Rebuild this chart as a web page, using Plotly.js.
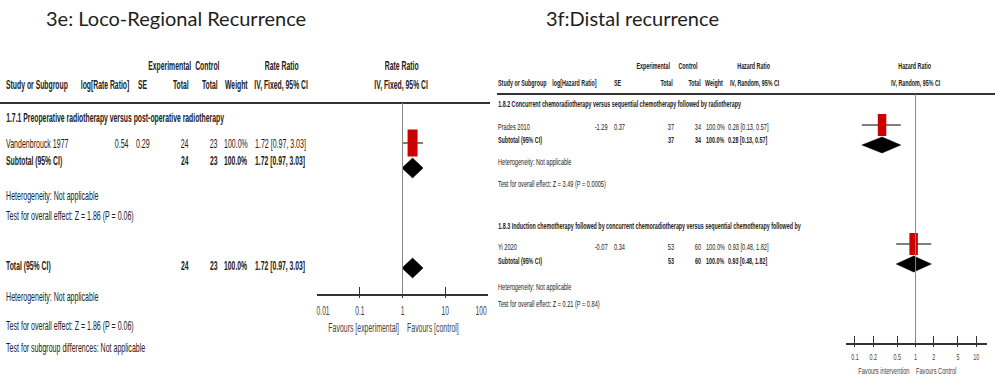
<!DOCTYPE html>
<html>
<head>
<meta charset="utf-8">
<script src="https://cdn.plot.ly/plotly-3.0.1.min.js"></script>
<style>html,body{margin:0;padding:0;background:#fff;}#chart{width:995px;height:383px;}</style>
</head>
<body>
<div id="chart"></div>
<script>
// ---------- DATA ----------
var titleL = "3e: Loco-Regional Recurrence";
var titleR = "3f:Distal recurrence";

// Left panel (3e)
var subgroupL = "1.7.1 Preoperative radiotherapy versus post-operative radiotherapy";
var studiesL = ["Vandenbrouck 1977"];
var logRRL = [0.54];
var seL = [0.29];
var expTotL = [24];
var ctrlTotL = [23];
var weightL = [100.0];
var rrL = [1.72];
var rrLoL = [0.97];
var rrHiL = [3.03];
var subtotalL = {exp: 24, ctrl: 23, weight: 100.0, est: 1.72, lo: 0.97, hi: 3.03};
var totalL = {exp: 24, ctrl: 23, weight: 100.0, est: 1.72, lo: 0.97, hi: 3.03};
var notesL1 = ["Heterogeneity: Not applicable", "Test for overall effect: Z = 1.86 (P = 0.06)"];
var notesL2 = ["Heterogeneity: Not applicable", "Test for overall effect: Z = 1.86 (P = 0.06)", "Test for subgroup differences: Not applicable"];
var tickValsL = [0.01, 0.1, 1, 10, 100];
var tickTextL = ["0.01", "0.1", "1", "10", "100"];
var favoursL = ["Favours [experimental]", "Favours [control]"];

// Right panel (3f)
var subgroupsR = ["1.8.2 Concurrent chemoradiotherapy versus sequential chemotherapy followed by radiotherapy",
                  "1.8.3 Induction chemotherapy followed by concurrent chemoradiotherapy versus sequential chemotherapy followed by"];
var studiesR = ["Prades 2010", "Yi 2020"];
var logHRR = [-1.29, -0.07];
var seR = [0.37, 0.34];
var expTotR = [37, 53];
var ctrlTotR = [34, 60];
var weightR = [100.0, 100.0];
var hrR = [0.28, 0.93];
var hrLoR = [0.13, 0.48];
var hrHiR = [0.57, 1.82];
var subtotalsR = [
  {exp: 37, ctrl: 34, weight: 100.0, est: 0.28, lo: 0.13, hi: 0.57},
  {exp: 53, ctrl: 60, weight: 100.0, est: 0.93, lo: 0.48, hi: 1.82}
];
var notesR = [["Heterogeneity: Not applicable", "Test for overall effect: Z = 3.49 (P = 0.0005)"],
              ["Heterogeneity: Not applicable", "Test for overall effect: Z = 0.21 (P = 0.84)"]];
var tickValsR = [0.1, 0.2, 0.5, 1, 2, 5, 10];
var tickTextR = ["0.1", "0.2", "0.5", "1", "2", "5", "10"];
var favoursR = ["Favours intervention", "Favours Control"];

// ---------- LAYOUT HELPERS ----------
var W = 995, H = 383;
var SANS = "Liberation Sans, Arial, sans-serif";
var TXT = "#222";
var RED = "#cc0000";
var ann = [], kArr = [];
// left panel text: 12px squeezed horizontally; right panel: 9px squeezed
var fl = 12, kL = 0.587, kLb = 0.57;
var fr = 9, kR = 0.623, kRb = 0.595;
function T(px, py, text, anchor, size, bold, k, color) {
  ann.push({
    x: px / W, y: 1 - py / H, xref: "paper", yref: "paper",
    text: bold ? "<b>" + text + "</b>" : text,
    xanchor: anchor, yanchor: "middle", showarrow: false, borderpad: 0,
    font: {family: SANS, size: size, color: color || TXT}
  });
  kArr.push(k);
}
function L(px, py, text, anchor, bold) { T(px, py, text, anchor, fl, bold, bold ? kLb : kL); }
function R(px, py, text, anchor, bold) { T(px, py, text, anchor, fr, bold, bold ? kRb : kR); }
function ci(e, l, h) { return e.toFixed(2) + " [" + l.toFixed(2) + ", " + h.toFixed(2) + "]"; }
function pct(w) { return w.toFixed(1) + "%"; }

// Titles
[[45, titleL], [545, titleR]].forEach(function (p) {
  ann.push({x: p[0] / W, y: 1 - 18 / H, xref: "paper", yref: "paper", text: p[1], xanchor: "left", yanchor: "middle",
    showarrow: false, borderpad: 0, font: {family: "Lato, Open Sans, sans-serif", size: 20, color: "#1e1e1e"}});
  kArr.push(1);
});

// ----- Left table -----
var rowL = {h1: 66, h2: 85, sg: 118, st: [144], sub: 161, n1: [196, 216], tot: 266, n2: [297, 326, 348]};
L(169, rowL.h1, "Experimental", "center", true);
L(207, rowL.h1, "Control", "center", true);
L(281, rowL.h1, "Rate Ratio", "center", true);
L(401, rowL.h1, "Rate Ratio", "center", true);
L(5, rowL.h2, "Study or Subgroup", "left", true);
L(130, rowL.h2, "log[Rate Ratio]", "right", true);
L(137, rowL.h2, "SE", "left", true);
L(190, rowL.h2, "Total", "right", true);
L(219, rowL.h2, "Total", "right", true);
L(224, rowL.h2, "Weight", "left", true);
L(281, rowL.h2, "IV, Fixed, 95% CI", "center", true);
L(401, rowL.h2, "IV, Fixed, 95% CI", "center", true);
L(5, rowL.sg, subgroupL, "left", true);
studiesL.forEach(function (s, i) {
  var y = rowL.st[i];
  L(5, y, s, "left", false);
  L(130, y, logRRL[i].toFixed(2), "right", false);
  L(135, y, seL[i].toFixed(2), "left", false);
  L(190, y, String(expTotL[i]), "right", false);
  L(219, y, String(ctrlTotL[i]), "right", false);
  L(223, y, pct(weightL[i]), "left", false);
  L(254, y, ci(rrL[i], rrLoL[i], rrHiL[i]), "left", false);
});
function sumRow(y, label, o) {
  L(5, y, label, "left", true);
  L(190, y, String(o.exp), "right", true);
  L(219, y, String(o.ctrl), "right", true);
  L(223, y, pct(o.weight), "left", true);
  L(254, y, ci(o.est, o.lo, o.hi), "left", true);
}
sumRow(rowL.sub, "Subtotal (95% CI)", subtotalL);
notesL1.forEach(function (t, i) { L(5, rowL.n1[i], t, "left", false); });
sumRow(rowL.tot, "Total (95% CI)", totalL);
notesL2.forEach(function (t, i) { L(5, rowL.n2[i], t, "left", false); });

// ----- Right table -----
var rowR = {h1: 66, h2: 83, sg: [104, 226], st: [127, 247], sub: [140, 261], n: [[162, 184], [287, 304]]};
R(653, rowR.h1, "Experimental", "center", true);
R(688, rowR.h1, "Control", "center", true);
R(754, rowR.h1, "Hazard Ratio", "center", true);
R(915, rowR.h1, "Hazard Ratio", "center", true);
R(497, rowR.h2, "Study or Subgroup", "left", true);
R(598, rowR.h2, "log[Hazard Ratio]", "right", true);
R(613, rowR.h2, "SE", "left", true);
R(674, rowR.h2, "Total", "right", true);
R(702, rowR.h2, "Total", "right", true);
R(704, rowR.h2, "Weight", "left", true);
R(754, rowR.h2, "IV, Random, 95% CI", "center", true);
R(915, rowR.h2, "IV, Random, 95% CI", "center", true);
studiesR.forEach(function (s, i) {
  R(497, rowR.sg[i], subgroupsR[i], "left", true);
  var y = rowR.st[i];
  R(497, y, s, "left", false);
  R(609, y, logHRR[i].toFixed(2), "right", false);
  R(613, y, seR[i].toFixed(2), "left", false);
  R(675, y, String(expTotR[i]), "right", false);
  R(702, y, String(ctrlTotR[i]), "right", false);
  R(705, y, pct(weightR[i]), "left", false);
  R(727, y, ci(hrR[i], hrLoR[i], hrHiR[i]), "left", false);
  var o = subtotalsR[i], ys = rowR.sub[i];
  R(497, ys, "Subtotal (95% CI)", "left", true);
  R(675, ys, String(o.exp), "right", true);
  R(702, ys, String(o.ctrl), "right", true);
  R(705, ys, pct(o.weight), "left", true);
  R(727, ys, ci(o.est, o.lo, o.hi), "left", true);
  notesR[i].forEach(function (t, j) { R(497, rowR.n[i][j], t, "left", false); });
});

// Favours labels (anchored at the null line)
function fav(xa, py, text, anchor, shift, size, k) {
  ann.push({x: 0, y: 1 - py / H, xref: xa, yref: "paper", text: text, xanchor: anchor, xshift: shift, yanchor: "middle",
    showarrow: false, borderpad: 0, font: {family: SANS, size: size, color: "#444"}});
  kArr.push(k);
}
fav("x", 328, favoursL[0], "right", -3, fl, 0.58);
fav("x", 328, favoursL[1], "left", 3, fl, 0.58);
fav("x2", 371, favoursR[0], "right", -5, fr, 0.63);
fav("x2", 371, favoursR[1], "left", -1, fr, 0.63);

// ---------- TRACES ----------
var traces = [];
function study(xa, ya, y, est, lo, hi, boxH, boxW) {
  traces.push({x: [lo, hi], y: [y, y], xaxis: xa, yaxis: ya, mode: "lines", line: {color: "#555", width: 1.5}, hoverinfo: "skip"});
  traces.push({x: [est, est], y: [y - boxH, y + boxH], xaxis: xa, yaxis: ya, mode: "lines", line: {color: RED, width: boxW}, hoverinfo: "skip"});
}
function diamond(xa, ya, y, est, lo, hi, dh) {
  traces.push({x: [lo, est, hi, est, lo], y: [y, y - dh, y, y + dh, y], xaxis: xa, yaxis: ya, mode: "lines",
    fill: "toself", fillcolor: "#000", line: {color: "#000", width: 0.5}, hoverinfo: "skip"});
}
// left marks (y in pixel rows of the panel)
var markL = {st: [143], sub: 168, tot: 268};
studiesL.forEach(function (s, i) { study("x", "y", markL.st[i], rrL[i], rrLoL[i], rrHiL[i], 13.5, 10); });
diamond("x", "y", markL.sub, subtotalL.est, subtotalL.lo, subtotalL.hi, 10);
diamond("x", "y", markL.tot, totalL.est, totalL.lo, totalL.hi, 10);
// right marks
var markR = {st: [125, 244], sub: [145, 264]};
studiesR.forEach(function (s, i) {
  study("x2", "y2", markR.st[i], hrR[i], hrLoR[i], hrHiR[i], 11, 8.5);
  var o = subtotalsR[i];
  diamond("x2", "y2", markR.sub[i], o.est, o.lo, o.hi, 8);
});

// ---------- AXES ----------
var axL = {top: 103, bot: 294, x0: 317, x1: 488};
var axR = {top: 94, bot: 343, x0: 846, x1: 987};
var layout = {
  width: W, height: H, margin: {l: 0, r: 0, t: 0, b: 0},
  paper_bgcolor: "#fff", plot_bgcolor: "rgba(0,0,0,0)", showlegend: false,
  xaxis: {domain: [axL.x0 / W, axL.x1 / W], type: "log", range: [-2, 2], anchor: "y",
    showline: true, linecolor: "#333", linewidth: 1.5, showgrid: false, zeroline: false,
    ticks: "inside", ticklen: 7, tickwidth: 1.2, tickcolor: "#333",
    tickvals: tickValsL, ticktext: tickTextL, ticklabelstandoff: 5,
    tickfont: {family: SANS, size: fl, color: "#444"}, fixedrange: true},
  yaxis: {domain: [1 - axL.bot / H, 1 - axL.top / H], range: [axL.bot, axL.top], visible: false, fixedrange: true},
  xaxis2: {domain: [axR.x0 / W, axR.x1 / W], type: "log", range: [Math.log10(0.0712), Math.log10(15.1)], anchor: "y2",
    showline: true, linecolor: "#333", linewidth: 1.5, showgrid: false, zeroline: false,
    ticks: "inside", ticklen: 7, tickwidth: 1, tickcolor: "#333",
    tickvals: tickValsR, ticktext: tickTextR, ticklabelstandoff: 5,
    tickfont: {family: SANS, size: fr, color: "#444"}, fixedrange: true},
  yaxis2: {domain: [1 - axR.bot / H, 1 - axR.top / H], range: [axR.bot, axR.top], visible: false, fixedrange: true},
  shapes: [
    {type: "line", xref: "paper", yref: "paper", x0: 0, x1: 490 / W, y0: 1 - 103 / H, y1: 1 - 103 / H, line: {color: "#333", width: 2}},
    {type: "line", xref: "paper", yref: "paper", x0: 497 / W, x1: 1, y0: 1 - 94 / H, y1: 1 - 94 / H, line: {color: "#333", width: 2}},
    {type: "line", xref: "x", yref: "y", x0: 1, x1: 1, y0: axL.top, y1: axL.bot, line: {color: "#888", width: 1}},
    {type: "line", xref: "x2", yref: "y2", x0: 1, x1: 1, y0: axR.top, y1: axR.bot, line: {color: "#888", width: 1}}
  ],
  annotations: ann
};

// squeeze text horizontally (the reference uses a very condensed face)
function squeeze(t, k, anchor, dx) {
  if (!t) return;
  var bb = t.getBBox();
  var ox = anchor === "left" ? bb.x : anchor === "right" ? bb.x + bb.width : bb.x + bb.width / 2;
  var prev = t.getAttribute("transform") || "";
  t.setAttribute("transform", prev + " translate(" + (ox + (dx || 0)) + ",0) scale(" + k + ",1) translate(" + (-ox) + ",0)");
}
// make the tick marks cross the axis line, as in the reference
function crossTicks(sel, below) {
  document.querySelectorAll(sel).forEach(function (p) {
    var d = p.getAttribute("d") || "";
    var m = d.match(/^M([-\d.]+),([-\d.]+)v(-?[\d.]+)$/);
    if (!m) return;
    var y = parseFloat(m[2]), v = parseFloat(m[3]);
    var s = v < 0 ? -1 : 1;
    p.setAttribute("d", "M" + m[1] + "," + (y - s * below) + "v" + (v + s * below));
  });
}
Plotly.newPlot("chart", traces, layout, {staticPlot: true, displayModeBar: false}).then(function (gd) {
  gd.querySelectorAll("g.annotation").forEach(function (g) {
    var i = +g.getAttribute("data-index");
    if (kArr[i] !== 1) squeeze(g.querySelector("text.annotation-text"), kArr[i], ann[i].xanchor);
  });
  var lt = gd.querySelectorAll("g.xtick text");
  lt.forEach(function (t, i) {
    var dx = i === 0 ? 6 : (i === lt.length - 1 ? -7 : 0);
    squeeze(t, 0.56, "center", dx);
  });
  gd.querySelectorAll("g.x2tick text").forEach(function (t) { squeeze(t, 0.6, "center"); });
  crossTicks("path.xtick", 4);
  crossTicks("path.x2tick", 4);
});
</script>
</body>
</html>
